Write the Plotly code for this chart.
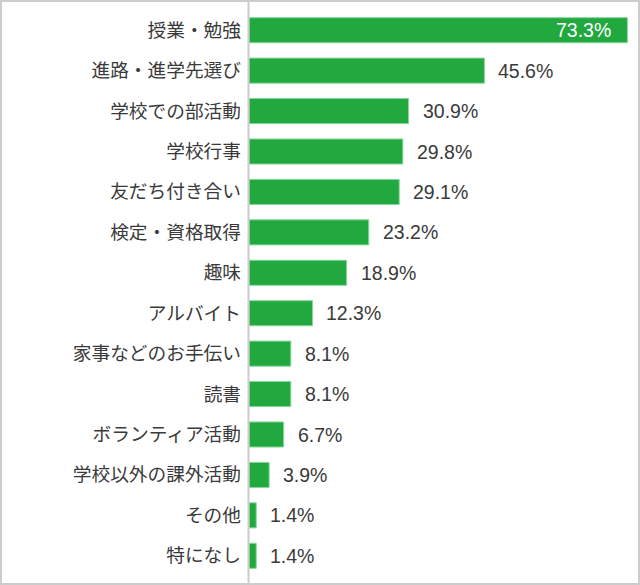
import plotly.graph_objects as go

categories = ["授業・勉強", "進路・進学先選び", "学校での部活動", "学校行事", "友だち付き合い",
              "検定・資格取得", "趣味", "アルバイト", "家事などのお手伝い", "読書",
              "ボランティア活動", "学校以外の課外活動", "その他", "特になし"]
values = [73.3, 45.6, 30.9, 29.8, 29.1, 23.2, 18.9, 12.3, 8.1, 8.1, 6.7, 3.9, 1.4, 1.4]
value_labels = ["73.3%", "45.6%", "30.9%", "29.8%", "29.1%", "23.2%", "18.9%", "12.3%",
                "8.1%", "8.1%", "6.7%", "3.9%", "1.4%", "1.4%"]

W, H = 640, 585
L, R, T, B = 249, 9, 10, 9
pw, ph = W - L - R, H - T - B
px_per = 5.162
xmax = pw / px_per

fig = go.Figure()
fig.add_trace(go.Bar(
    x=values, y=categories, orientation="h",
    marker=dict(color="#21a83f", line=dict(color="#86d79a", width=1)),
    hoverinfo="skip",
))

annotations = []
for c, v, t in zip(categories, values, value_labels):
    if v > 60:
        annotations.append(dict(x=v, y=c, xref="x", yref="y", text=t, showarrow=False,
                                xanchor="right", xshift=-14,
                                font=dict(color="white", size=19.5, family="Liberation Sans, Arial")))
    else:
        annotations.append(dict(x=v, y=c, xref="x", yref="y", text=t, showarrow=False,
                                xanchor="left", xshift=12,
                                font=dict(color="#3a3a3a", size=19.5, family="Liberation Sans, Arial")))

def px2x(p):
    return (p - L) / pw

def py2y(p):
    return (H - B - p) / ph

shapes = [
    dict(type="line", xref="paper", yref="paper", x0=px2x(248.5), x1=px2x(248.5),
         y0=py2y(585), y1=py2y(0), line=dict(color="#cccccc", width=2)),
    dict(type="rect", xref="paper", yref="paper", x0=px2x(1), x1=px2x(639),
         y0=py2y(584), y1=py2y(1), line=dict(color="#cccccc", width=2)),
]

fig.update_layout(
    width=W, height=H,
    margin=dict(l=L, r=R, t=T, b=B),
    paper_bgcolor="white", plot_bgcolor="white",
    bargap=0.38,
    showlegend=False,
    xaxis=dict(range=[0, xmax], visible=False, fixedrange=True),
    yaxis=dict(autorange="reversed", showgrid=False, zeroline=False, showline=False,
               ticks="", ticklabelstandoff=7,
               tickfont=dict(size=18.7, color="#3a3a3a", family="Noto Sans CJK JP")),
    annotations=annotations,
    shapes=shapes,
)

fig.write_html("out.html")
